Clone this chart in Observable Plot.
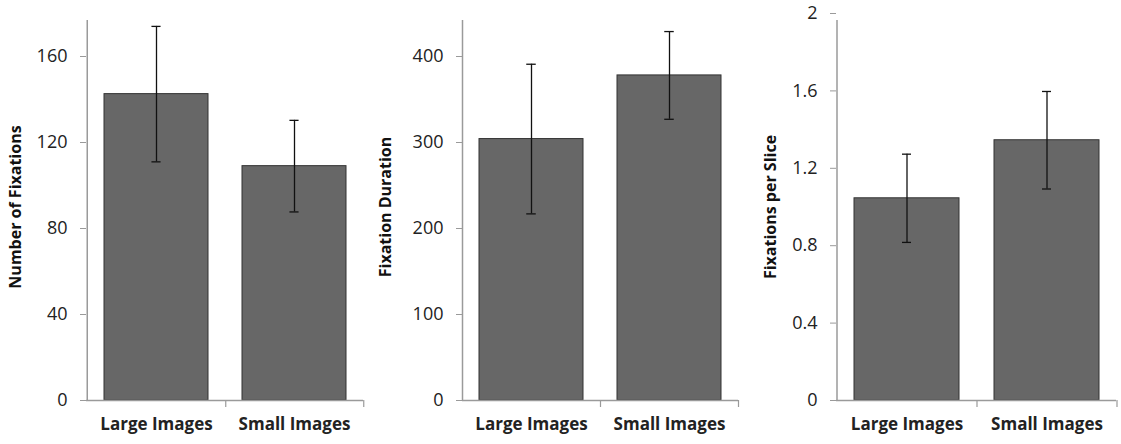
<!DOCTYPE html>
<html>
<head>
<meta charset="utf-8">
<script src="https://cdn.jsdelivr.net/npm/d3@7"></script>
<script src="https://cdn.jsdelivr.net/npm/@observablehq/plot@0.6"></script>
<style>
  html, body { margin: 0; padding: 0; background: #fff; }
  #wrap { position: relative; width: 1121px; height: 444px; overflow: hidden; }
  #wrap > div { position: absolute; top: 0; }
  svg { font-family: "Open Sans", sans-serif; }
  g[aria-label="y-axis tick label"] { font-size: 18px; }
</style>
</head>
<body>
<div id="wrap">
  <div id="p1" style="left:0px"></div>
  <div id="p2" style="left:370px"></div>
  <div id="p3" style="left:745px"></div>
</div>
<script>
// ---- data ----
const categories = ["Large Images", "Small Images"];

const fixationsMean = [142.5, 109];
const fixationsErr  = [31.5, 21.3];
const fixationsTicks = [0, 40, 80, 120, 160];
const fixationsMax = 180;

const durationMean = [304, 378];
const durationErr  = [87, 51];
const durationTicks = [0, 100, 200, 300, 400];
const durationMax = 450;

const perSliceMean = [1.045, 1.345];
const perSliceErr  = [0.228, 0.252];
const perSliceTicks = [0, 0.4, 0.8, 1.2, 1.6, 2];
const perSliceMax = 2;

const panels = [
  {id: "p1", label: "Number of Fixations", mean: fixationsMean, err: fixationsErr, ticks: fixationsTicks, max: fixationsMax,
   width: 375, marginLeft: 86, marginRight: 12, fmt: d => String(d), labelX: 15},
  {id: "p2", label: "Fixation Duration", mean: durationMean, err: durationErr, ticks: durationTicks, max: durationMax,
   width: 375, marginLeft: 92, marginRight: 7, fmt: d => String(d), labelX: 15},
  {id: "p3", label: "Fixations per Slice", mean: perSliceMean, err: perSliceErr, ticks: perSliceTicks, max: perSliceMax,
   width: 376, marginLeft: 91, marginRight: 5, fmt: d => String(d), labelX: 25}
];

for (const p of panels) {
  const rows = categories.map((c, i) => ({cat: c, v: p.mean[i], lo: p.mean[i] - p.err[i], hi: p.mean[i] + p.err[i]}));
  const height = 444, marginTop = 13, marginBottom = 44;
  const plotW = p.width - p.marginLeft - p.marginRight;
  const step = plotW / categories.length;
  const bw = step * 0.75;
  const capInset = (bw - 9) / 2;
  const chart = Plot.plot({
    width: p.width,
    height,
    marginTop, marginBottom,
    marginLeft: p.marginLeft, marginRight: p.marginRight,
    style: {fontFamily: "'Open Sans', sans-serif", fontSize: "17px", color: "#222", background: "#fff"},
    x: {domain: categories, paddingInner: 0.25, paddingOuter: 0.125, label: null},
    y: {domain: [0, p.max], label: null},
    marks: [
      Plot.barY(rows, {x: "cat", y: "v", fill: "#676767", stroke: "#333", strokeWidth: 1}),
      Plot.ruleX(rows, {x: "cat", y1: "lo", y2: "hi", stroke: "#111", strokeWidth: 1.3}),
      Plot.tickY(rows, {x: "cat", y: "hi", stroke: "#111", strokeWidth: 1.3, insetLeft: capInset, insetRight: capInset}),
      Plot.tickY(rows, {x: "cat", y: "lo", stroke: "#111", strokeWidth: 1.3, insetLeft: capInset, insetRight: capInset}),
      // axis lines
      Plot.ruleY([0], {stroke: "#9a9a9a", strokeWidth: 1.5}),
      Plot.ruleX([categories[0]], {x: d => d, y1: 0, y2: p.max, dx: -step / 2, insetTop: 0, insetBottom: -7, stroke: "#9a9a9a", strokeWidth: 1.5}),
      // category boundary ticks on x axis
      Plot.ruleX(categories, {x: d => d, y1: 0, y2: 0, dx: step / 2, insetTop: 7, stroke: "#9a9a9a", strokeWidth: 1.2}),
      Plot.axisY({ticks: p.ticks, tickSize: 6, tickPadding: 13, tickFormat: p.fmt, fontSize: 18, stroke: "#9a9a9a", fill: "#222", label: null}),
      Plot.axisX({tickSize: 0, tickPadding: 17, fontSize: 17, fontWeight: "bold", fill: "#222", label: null}),
      Plot.text([p.label], {frameAnchor: "left", textAnchor: "middle", dx: -(p.marginLeft - p.labelX), rotate: -90, fontSize: 16, fontWeight: "bold", fill: "#111", text: d => d})
    ]
  });
  document.getElementById(p.id).appendChild(chart);
}
</script>
</body>
</html>
